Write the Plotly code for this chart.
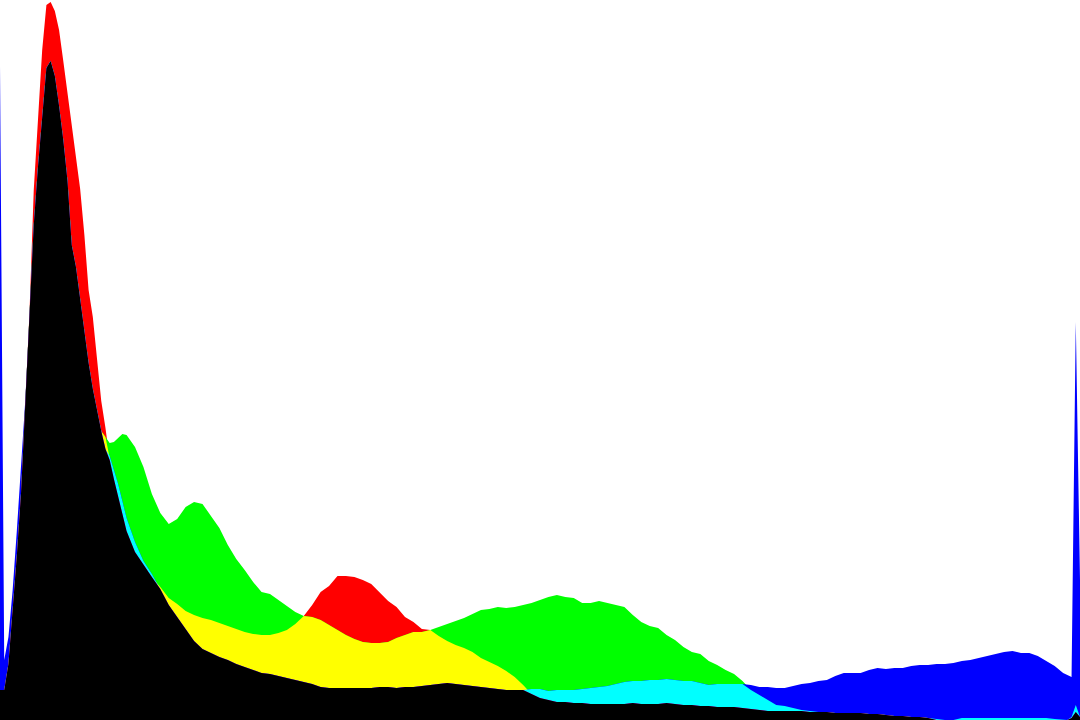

# rgb histogram of an image, drawn as overlapping channel areas
# overlap colours: red+green -> yellow, green+blue -> cyan, all three -> black

import numpy as np
import plotly.graph_objects as go

# intensity levels where the histogram was read (every level near the peak, then every 2nd)
levels = list(range(0, 31)) + list(range(32, 253, 2)) + [253, 254, 255, 256]

red_counts = [
    30, 30, 56, 108, 165, 228, 326, 408, 530, 604,
    670, 715, 718, 709, 690, 659, 628, 594, 565, 531,
    485, 430, 403, 359, 319, 292, 260, 241, 223, 204, 189,
    168, 155, 143, 133, 122, 116, 109, 105, 102, 100,
    97, 94, 91, 88, 86, 85, 85, 87, 90, 96,
    104, 115, 128, 134, 144, 144, 143, 140, 136, 128,
    119, 113, 103, 98, 91, 90, 84, 79, 75, 72,
    68, 62, 58, 54, 49, 43, 35, 26, 22, 20,
    18, 18, 17, 17, 16, 16, 16, 16, 16, 17,
    16, 16, 16, 17, 16, 15, 15, 14, 14, 13,
    13, 13, 12, 11, 10, 9, 9, 9, 9, 9,
    8, 8, 8, 7, 7, 7, 7, 6, 6, 5,
    4, 4, 3, 3, 2, 0, 0, 0, 0, 0,
    0, 0, 0, 0, 0, 0, 0, 0, 0, 0,
    0,
    0, 2, 8, 3,
]

green_counts = [
    30, 30, 56, 108, 165, 228, 320, 404, 495, 553,
    605, 652, 659, 644, 614, 580, 539, 475, 453, 419,
    387, 357, 331, 308, 289, 283, 277, 278, 282, 286, 285,
    273, 253, 226, 207, 196, 201, 213, 218, 216, 204,
    192, 175, 161, 150, 138, 128, 126, 120, 114, 108,
    104, 103, 100, 95, 90, 85, 81, 78, 77, 77,
    78, 82, 85, 88, 88, 90, 93, 96, 99, 102,
    106, 110, 111, 113, 112, 113, 115, 117, 120, 123,
    125, 123, 122, 117, 117, 119, 117, 115, 113, 105,
    98, 94, 92, 85, 80, 73, 68, 66, 59, 55,
    50, 46, 39, 30, 25, 20, 15, 14, 12, 10,
    9, 8, 8, 7, 7, 7, 7, 6, 6, 5,
    4, 4, 3, 3, 2, 1, 0, 0, 2, 2,
    2, 2, 2, 2, 2, 2, 2, 2, 2, 1,
    0,
    0, 3, 15, 3,
]

blue_counts = [
    654, 60, 83, 130, 190, 250, 320, 404, 495, 553,
    605, 652, 659, 644, 614, 580, 539, 475, 453, 419,
    387, 357, 331, 308, 289, 271, 264, 250, 236, 219, 202,
    178, 159, 146, 131, 115, 103, 91, 79, 71, 67,
    63, 60, 56, 53, 50, 47, 46, 44, 42, 40,
    38, 36, 33, 32, 32, 32, 32, 32, 32, 33,
    33, 32, 33, 33, 34, 35, 36, 37, 36, 35,
    34, 33, 32, 31, 30, 30, 30, 31, 31, 29,
    30, 30, 30, 31, 32, 33, 34, 36, 38, 39,
    39, 40, 40, 41, 40, 39, 39, 37, 35, 36,
    36, 36, 36, 35, 33, 33, 32, 32, 34, 36,
    37, 39, 40, 44, 47, 47, 47, 50, 52, 51,
    52, 52, 54, 55, 55, 56, 56, 57, 59, 60,
    62, 64, 66, 68, 69, 67, 67, 64, 59, 54,
    47,
    45, 43, 398, 140,
]

r = np.array(red_counts)
g = np.array(green_counts)
b = np.array(blue_counts)

# single channels first, then the overlaps painted on top of them
layers = [
    (r, '#ff0000'),
    (g, '#00ff00'),
    (b, '#0000ff'),
    (np.minimum(r, g), '#ffff00'),
    (np.minimum(g, b), '#00ffff'),
    (np.minimum(r, b), '#ff00ff'),
    (np.minimum(np.minimum(r, g), b), '#000000'),
]

fig = go.Figure()
for counts, colour in layers:
    fig.add_trace(go.Scatter(x=levels, y=counts, mode='lines', fill='tozeroy',
                             line=dict(width=0, color=colour), fillcolor=colour,
                             hoverinfo='skip'))

fig.update_layout(width=1080, height=720, margin=dict(l=0, r=0, t=0, b=0),
                  showlegend=False, plot_bgcolor='white', paper_bgcolor='white')
fig.update_xaxes(range=[0, 256], visible=False, showgrid=False, zeroline=False)
fig.update_yaxes(range=[0, 720], visible=False, showgrid=False, zeroline=False)

fig.write_html("out.html", config={'displayModeBar': False},
               post_script="document.body.style.margin='0';document.body.style.overflow='hidden';")
